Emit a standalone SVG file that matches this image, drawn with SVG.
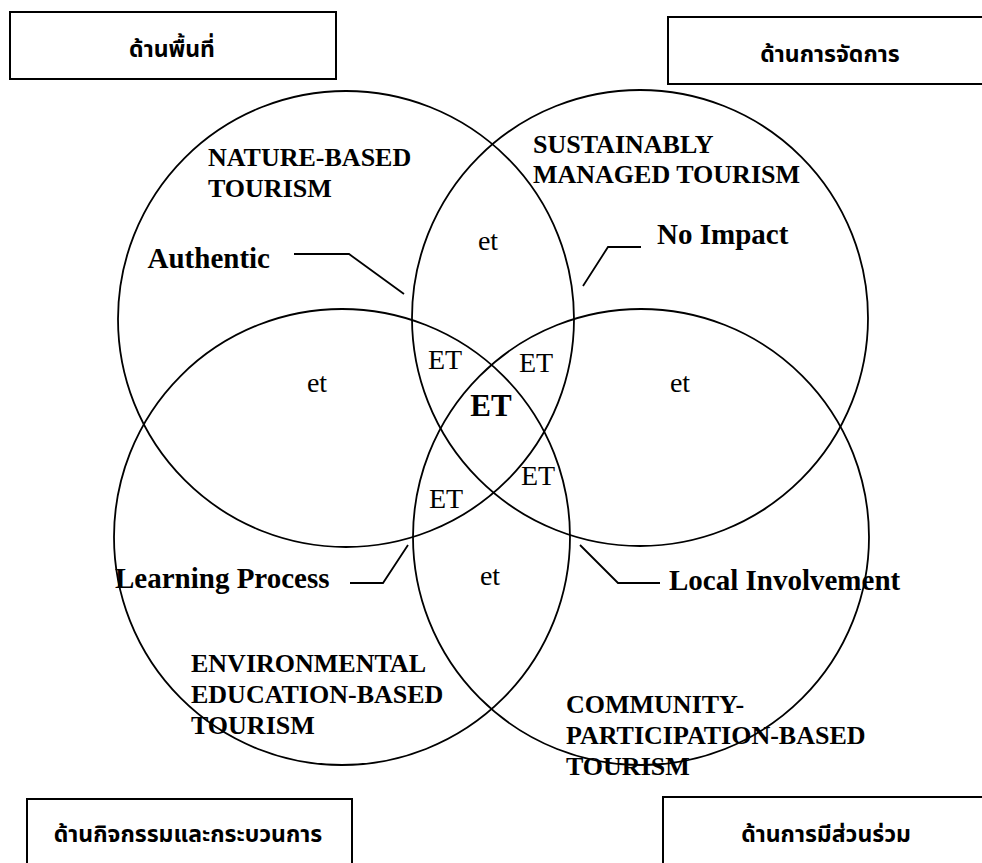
<svg xmlns="http://www.w3.org/2000/svg" width="982" height="863" viewBox="0 0 982 863">
<style>
.bg{fill:#fff}
.box{fill:#fff;stroke:#000;stroke-width:2}
.circ{fill:none;stroke:#000;stroke-width:1.8}
.conn{fill:none;stroke:#000;stroke-width:1.8}
.th{font-family:"Noto Sans Thai","Noto Sans","DejaVu Sans",sans-serif;font-weight:bold;font-size:23px;fill:#000;text-anchor:middle}
.lab{font-family:"Liberation Serif","Times New Roman",serif;font-weight:bold;font-size:26px;fill:#000}
.call{font-family:"Liberation Serif","Times New Roman",serif;font-weight:bold;font-size:29px;fill:#000}
.et{font-family:"Liberation Serif","Times New Roman",serif;font-size:28px;fill:#000;text-anchor:middle}
.etb{font-family:"Liberation Serif","Times New Roman",serif;font-weight:bold;font-size:31px;fill:#000;text-anchor:middle}
</style>
<rect class="bg" x="0" y="0" width="982" height="863"/>
<g id="box-area">
<rect class="box" x="10" y="12" width="326" height="67"/>
<text class="th" x="172" y="57">ด้านพื้นที่</text>
</g>
<g id="box-management">
<rect class="box" x="668" y="17" width="330" height="67"/>
<text class="th" x="830" y="62">ด้านการจัดการ</text>
</g>
<g id="box-activity">
<rect class="box" x="27" y="799" width="325" height="80"/>
<text class="th" x="188" y="842">ด้านกิจกรรมและกระบวนการ</text>
</g>
<g id="box-participation">
<rect class="box" x="663" y="797" width="340" height="80"/>
<text class="th" x="826" y="842">ด้านการมีส่วนร่วม</text>
</g>
<g id="circle-nature">
<circle class="circ" cx="346" cy="319" r="228"/>
<text class="lab" x="208" y="166">NATURE-BASED</text>
<text class="lab" x="208" y="197">TOURISM</text>
</g>
<g id="circle-managed">
<circle class="circ" cx="640" cy="318" r="228"/>
<text class="lab" x="533" y="153">SUSTAINABLY</text>
<text class="lab" x="533" y="183">MANAGED TOURISM</text>
</g>
<g id="circle-education">
<circle class="circ" cx="342" cy="537" r="228"/>
<text class="lab" x="191" y="672">ENVIRONMENTAL</text>
<text class="lab" x="191" y="703">EDUCATION-BASED</text>
<text class="lab" x="191" y="734">TOURISM</text>
</g>
<g id="circle-community">
<circle class="circ" cx="641" cy="537" r="228"/>
<text class="lab" x="566" y="713">COMMUNITY-</text>
<text class="lab" x="566" y="744">PARTICIPATION-BASED</text>
<text class="lab" x="566" y="775">TOURISM</text>
</g>
<g id="regions">
<text class="et" x="488" y="250">et</text>
<text class="et" x="317" y="392">et</text>
<text class="et" x="680" y="392">et</text>
<text class="et" x="490" y="585">et</text>
<text class="et" x="445" y="369">ET</text>
<text class="et" x="536" y="372">ET</text>
<text class="et" x="538" y="485">ET</text>
<text class="et" x="446" y="508">ET</text>
<text class="etb" x="491" y="416">ET</text>
</g>
<g id="callouts">
<text class="call" x="270" y="268" text-anchor="end">Authentic</text>
<text class="call" x="657" y="244">No Impact</text>
<text class="call" x="115" y="588">Learning Process</text>
<text class="call" x="669" y="590">Local Involvement</text>
</g>
<g id="connectors">
<polyline class="conn" points="294,254 349,254 404,294"/>
<polyline class="conn" points="641,247 608,247 583,286"/>
<polyline class="conn" points="350,583 383,583 408,545"/>
<polyline class="conn" points="580,545 618,583 660,583"/>
</g>
</svg>
